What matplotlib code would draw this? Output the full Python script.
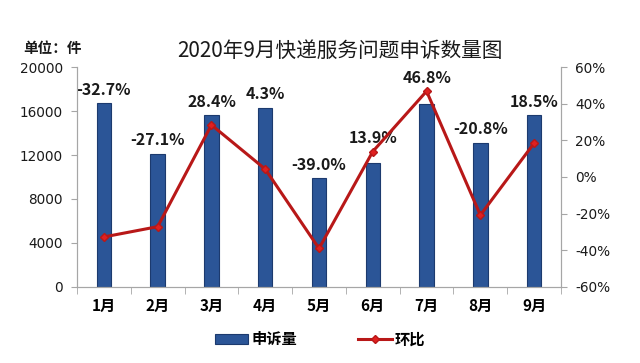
import matplotlib.pyplot as plt
import numpy as np

plt.rcParams['font.family'] = ['Noto Sans CJK SC', 'DejaVu Sans']

months = ['1月', '2月', '3月', '4月', '5月', '6月', '7月', '8月', '9月']
complaints = [16700, 12100, 15600, 16300, 9900, 11300, 16600, 13100, 15600]
mom = [-32.7, -27.1, 28.4, 4.3, -39.0, 13.9, 46.8, -20.8, 18.5]

bar_color = '#2B5597'
line_color = '#B81818'
axis_color = '#A6A6A6'

fig = plt.figure(figsize=(6.4, 3.63), dpi=100)
ax = fig.add_axes([0.1203, 0.2094, 0.7563, 0.606])
ax2 = ax.twinx()

x = np.arange(len(months))
ax.bar(x, complaints, width=0.27, color=bar_color, edgecolor='#1C3A6E',
       linewidth=0.8, label='申诉量', zorder=2)
ax2.plot(x, mom, color=line_color, lw=2.2, marker='D', markersize=4,
         markerfacecolor='#E02020', markeredgecolor=line_color,
         label='环比', zorder=3)

ax.set_xlim(-0.5, len(months) - 0.5)
ax.set_ylim(0, 20000)
ax.set_yticks(range(0, 20001, 4000))
ax2.set_ylim(-60, 60)
ax2.set_yticks(range(-60, 61, 20))
ax2.set_yticklabels([f'{v}%' for v in range(-60, 61, 20)])

ax.set_xticks(x)
ax.set_xticklabels(months, fontweight='bold', fontsize=11)
ax.set_xticks(np.arange(-0.5, len(months), 1), minor=True)
ax.tick_params(axis='x', which='major', length=0, pad=8)
ax.tick_params(axis='x', which='minor', length=5, color=axis_color, direction='out')
ax.tick_params(axis='y', length=4, color=axis_color, labelsize=9.8, pad=6)
ax2.tick_params(axis='y', length=4, color=axis_color, labelsize=9.8, pad=6)
for t in ax.get_yticklabels() + ax2.get_yticklabels():
    t.set_family('DejaVu Sans')
    t.set_color('#1A1A1A')

for a in (ax, ax2):
    a.spines['top'].set_visible(False)
    for s in ('left', 'right', 'bottom'):
        a.spines[s].set_color(axis_color)

ax.set_zorder(ax2.get_zorder() - 1)
ax2.patch.set_visible(False)

# labels sit above the bar or the line point, whichever is higher
for i, (c, p) in enumerate(zip(complaints, mom)):
    line_y = (p + 60) / 120 * 20000
    top = max(c, line_y)
    ax.annotate(f'{p:.1f}%', (i, top), xytext=(0, 4), textcoords='offset points',
                ha='center', va='bottom', fontsize=11.5, fontweight='bold',
                color='#1A1A1A', annotation_clip=False, zorder=5)

fig.text(0.531, 0.86, '2020年9月快递服务问题申诉数量图', ha='center', va='center',
         fontsize=14.9, color='#1A1A1A')
fig.text(0.036, 0.868, '单位：件', ha='left', va='center', fontsize=10.5,
         fontweight='bold', color='#1A1A1A')

h1, l1 = ax.get_legend_handles_labels()
h2, l2 = ax2.get_legend_handles_labels()
fig.legend(h1 + h2, l1 + l2, loc='center', bbox_to_anchor=(0.5, 0.065), ncol=2,
           frameon=False, prop={'weight': 'bold', 'size': 11}, handlelength=2.2,
           handletextpad=0.2, columnspacing=4)

fig.savefig('out.png', dpi=100, facecolor='white')
